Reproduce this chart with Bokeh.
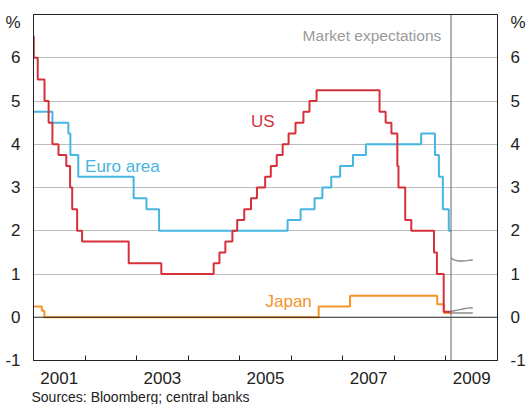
import pandas as pd
from bokeh.plotting import figure
from bokeh.models import FixedTicker, Span, Label, Title, LinearAxis, Range1d
from bokeh.embed import file_html
from bokeh.resources import INLINE

# ---------------- data ----------------
us_dates = ["2001-01-01", "2001-01-03", "2001-01-31", "2001-03-20", "2001-04-18",
            "2001-05-15", "2001-06-27", "2001-08-21", "2001-09-17", "2001-10-02",
            "2001-11-06", "2001-12-11", "2002-11-06", "2003-06-25", "2004-06-30",
            "2004-08-10", "2004-09-21", "2004-11-10", "2004-12-14", "2005-02-02",
            "2005-03-22", "2005-05-03", "2005-06-30", "2005-08-09", "2005-09-20",
            "2005-11-01", "2005-12-13", "2006-01-31", "2006-03-28", "2006-05-10",
            "2006-06-29", "2007-09-18", "2007-10-31", "2007-12-11", "2008-01-22",
            "2008-01-30", "2008-03-18", "2008-04-30", "2008-10-08", "2008-10-29",
            "2008-12-16"]
us_rates = [6.5, 6.0, 5.5, 5.0, 4.5,
            4.0, 3.75, 3.5, 3.0, 2.5,
            2.0, 1.75, 1.25, 1.0, 1.25,
            1.5, 1.75, 2.0, 2.25, 2.5,
            2.75, 3.0, 3.25, 3.5, 3.75,
            4.0, 4.25, 4.5, 4.75, 5.0,
            5.25, 4.75, 4.5, 4.25, 3.5,
            3.0, 2.25, 2.0, 1.5, 1.0,
            0.125]

euro_dates = ["2001-01-01", "2001-05-15", "2001-09-05", "2001-09-19", "2001-11-14",
              "2002-12-11", "2003-03-12", "2003-06-09", "2005-12-06", "2006-03-08",
              "2006-06-15", "2006-08-09", "2006-10-11", "2006-12-13", "2007-03-14",
              "2007-06-13", "2008-07-09", "2008-10-15", "2008-11-12", "2008-12-10",
              "2009-01-21"]
euro_rates = [4.75, 4.5, 4.25, 3.75, 3.25,
              2.75, 2.5, 2.0, 2.25, 2.5,
              2.75, 3.0, 3.25, 3.5, 3.75,
              4.0, 4.25, 3.75, 3.25, 2.5,
              2.0]

japan_dates = ["2001-01-01", "2001-03-01", "2001-03-19", "2006-07-14", "2007-02-21",
               "2008-10-31", "2008-12-19"]
japan_rates = [0.25, 0.15, 0.0, 0.25, 0.5, 0.3, 0.1]

latest_date = "2009-02-06"

exp_dates = ["2009-02-06", "2009-03-01", "2009-04-01", "2009-05-01", "2009-06-01", "2009-07-10"]
euro_exp = [1.37, 1.32, 1.30, 1.30, 1.31, 1.33]
us_exp = [0.13, 0.15, 0.17, 0.19, 0.21, 0.22]
japan_exp = [0.10, 0.10, 0.10, 0.10, 0.10, 0.10]

year_ticks = [2002, 2003, 2004, 2005, 2006, 2007, 2008, 2009]
year_labels = ["2001", "2003", "2005", "2007", "2009"]
y_ticks = [-1, 0, 1, 2, 3, 4, 5, 6]
grid_ticks = [1, 2, 3, 4, 5, 6]
unit_label = "%"
source_text = "Sources: Bloomberg; central banks"


def dec_year(s):
    t = pd.Timestamp(s)
    a = pd.Timestamp(year=t.year, month=1, day=1)
    b = pd.Timestamp(year=t.year + 1, month=1, day=1)
    return t.year + (t - a) / (b - a)


latest = dec_year(latest_date)

FONT = "Liberation Sans"
RED = "#D6303A"
BLUE = "#45B5E1"
ORANGE = "#F5942A"
GREY = "#8C8C8C"
DARK = "#222222"

X0, X1, Y0, Y1 = 2001, 2010, -1, 7
PCT_POS = 6.82  # where the unit label sits on the value axes

p = figure(width=528, height=404, x_range=Range1d(X0, X1), y_range=Range1d(Y0, Y1),
           output_backend="svg", toolbar_location=None,
           min_border_left=33, min_border_right=22, min_border_top=14, min_border_bottom=8)
p.background_fill_color = "white"
p.border_fill_color = "white"
p.outline_line_color = DARK
p.outline_line_width = 1

# x axis: labels at mid-year of odd years, inward minor ticks at year boundaries
label_pos = [int(s) + 0.5 for s in year_labels]
xa = p.xaxis[0]
xa.ticker = FixedTicker(ticks=label_pos, minor_ticks=year_ticks)
xa.major_label_overrides = {pos: lab for pos, lab in zip(label_pos, year_labels)}
xa.major_tick_line_color = None
xa.minor_tick_in = 5
xa.minor_tick_out = 0
xa.minor_tick_line_color = DARK
xa.axis_line_color = DARK
xa.major_label_standoff = 5
xa.major_label_text_font = FONT
xa.major_label_text_font_size = "17px"
xa.major_label_text_color = DARK


def style_y(ax):
    ax.ticker = FixedTicker(ticks=y_ticks + [PCT_POS], minor_ticks=[])
    over = {v: str(v) for v in y_ticks}
    over[PCT_POS] = unit_label
    ax.major_label_overrides = over
    ax.major_tick_line_color = None
    ax.minor_tick_line_color = None
    ax.axis_line_color = DARK
    ax.major_label_standoff = 7
    ax.major_label_text_font = FONT
    ax.major_label_text_font_size = "17px"
    ax.major_label_text_color = DARK


style_y(p.yaxis[0])
ra = LinearAxis()
style_y(ra)
p.add_layout(ra, "right")

p.xgrid.visible = False
p.ygrid.ticker = FixedTicker(ticks=grid_ticks)
p.ygrid.grid_line_color = "#BDBDBD"
p.ygrid.grid_line_width = 1

p.add_layout(Span(location=0, dimension="width", line_color=DARK, line_width=1))
p.add_layout(Span(location=latest, dimension="height", line_color="#666666", line_width=1))


def step_series(dates, rates, color):
    xs = [dec_year(d) for d in dates] + [latest]
    ys = list(rates) + [rates[-1]]
    p.step(xs, ys, mode="after", line_color=color, line_width=2)


step_series(euro_dates, euro_rates, BLUE)
step_series(japan_dates, japan_rates, ORANGE)
step_series(us_dates, us_rates, RED)

ex = [dec_year(d) for d in exp_dates]
for ser in (euro_exp, us_exp, japan_exp):
    p.line(ex, ser, line_color=GREY, line_width=1.4)

lab_kw = dict(text_font=FONT, text_font_size="17px", text_baseline="middle")
p.add_layout(Label(x=2005.22, y=4.52, text="US", text_color=RED, **lab_kw))
p.add_layout(Label(x=2002.0, y=3.49, text="Euro area", text_color=BLUE, **lab_kw))
p.add_layout(Label(x=2005.50, y=0.37, text="Japan", text_color=ORANGE, **lab_kw))
p.add_layout(Label(x=2008.91, y=6.51, text="Market expectations", text_color="#9A9A9A",
                   text_align="right", text_font=FONT, text_font_size="15.5px",
                   text_baseline="middle"))

src = Title(text=source_text, align="left", text_font=FONT,
            text_font_size="14px", text_font_style="normal", text_color=DARK,
            standoff=0, offset=-2)
p.add_layout(src, "below")

open("out.html", "w").write(file_html(p, INLINE))
